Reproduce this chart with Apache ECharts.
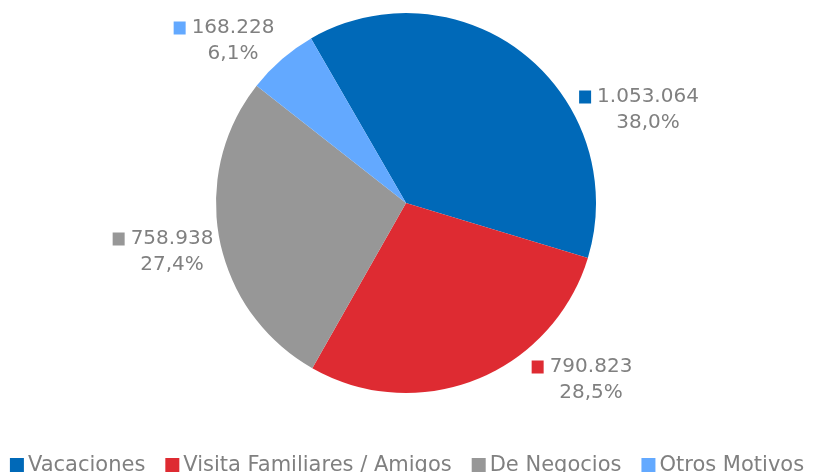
<!DOCTYPE html>
<html>
<head>
<meta charset="utf-8">
<script src="https://cdn.jsdelivr.net/npm/echarts@6/dist/echarts.min.js"></script>
<style>
  html, body { margin: 0; padding: 0; background: #fff; }
  #chart { width: 814px; height: 472px; }
</style>
</head>
<body>
<div id="chart"></div>
<script>
const categories = ['Vacaciones', 'Visita Familiares / Amigos', 'De Negocios', 'Otros Motivos'];
const values = [1053064, 790823, 758938, 168228];
const colors = ['#0069b8', '#de2b32', '#979797', '#63a9ff'];

const textColor = '#808080';
const font = 'DejaVu Sans';

// where Excel put each data label (block centre)
const labelPos = [[639, 110], [582, 380], [163, 252], [224, 41]];

const fmtInt = v => String(v).replace(/\B(?=(\d{3})+(?!\d))/g, '.');
const fmtPct = p => p.toFixed(1).replace('.', ',') + '%';

const chart = echarts.init(document.getElementById('chart'));

const data = categories.map((name, i) => ({
  name: name,
  value: values[i],
  itemStyle: { color: colors[i] },
  label: {
    rich: {
      sq: { width: 12, height: 13, backgroundColor: colors[i] },
      gap: { width: 6 },
      pad: { width: 18 },
      v: { fontFamily: font, fontSize: 20, color: textColor, lineHeight: 26 }
    }
  }
}));

chart.setOption({
  animation: false,
  color: colors,
  legend: {
    bottom: -9,
    left: 'center',
    itemWidth: 14,
    itemHeight: 15,
    itemGap: 20,
    icon: 'rect',
    textStyle: { fontFamily: font, fontSize: 21, color: textColor, padding: [0, 0, 0, -1] },
    data: categories
  },
  series: [{
    type: 'pie',
    center: [406, 203],
    radius: 190,
    startAngle: 120,
    clockwise: true,
    itemStyle: { borderWidth: 0 },
    label: {
      show: true,
      position: 'outside',
      align: 'center',
      verticalAlign: 'middle',
      formatter: p => '{sq|}{gap|}{v|' + fmtInt(p.value) + '}\n{pad|}{v|' + fmtPct(p.percent) + '}'
    },
    labelLine: { show: false },
    labelLayout: p => ({
      x: labelPos[p.dataIndex][0],
      y: labelPos[p.dataIndex][1],
      align: 'center',
      verticalAlign: 'middle',
      hideOverlap: false
    }),
    data: data
  }]
});
</script>
</body>
</html>
